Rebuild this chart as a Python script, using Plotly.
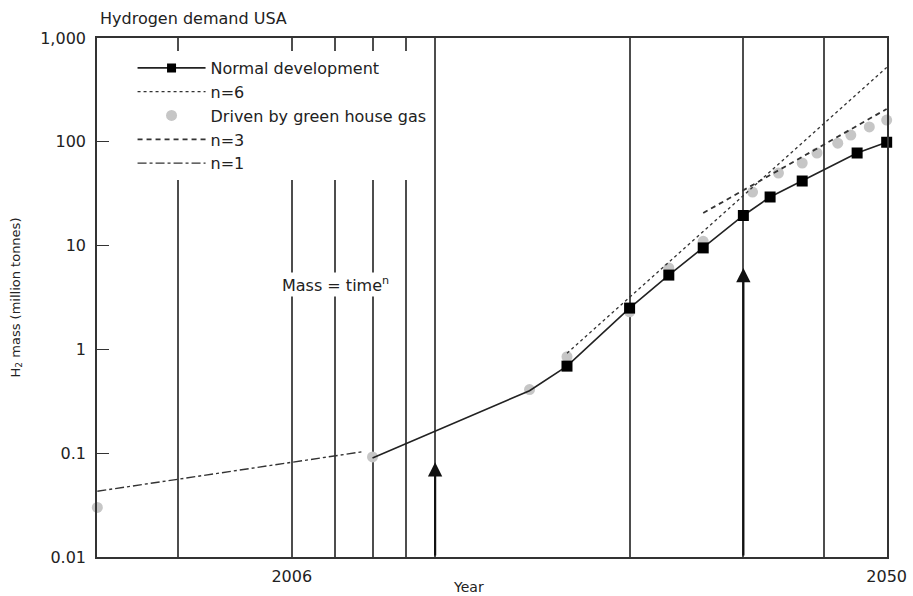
import numpy as np
import plotly.graph_objects as go

# ---------------- data ----------------
BASE_YEAR = 2000  # x axis is log(year - 2000)

normal_years = [2008, 2014, 2016, 2020, 2023, 2026, 2030, 2033, 2037, 2045, 2050]
normal_vals = [0.09, 0.40, 0.69, 2.5, 5.2, 9.5, 19.5, 29.4, 41.9, 78, 99]

ghg_years = [2003, 2008, 2014, 2016, 2020, 2023, 2026, 2031, 2034, 2037, 2039, 2042, 2044, 2047, 2050]
ghg_vals = [0.030, 0.092, 0.41, 0.85, 2.3, 6.1, 11, 32.8, 50, 62.5, 78, 97, 116, 139, 162]

n6_years = [2016, 2050]
n6_vals = [0.92, 520]

n3_years = [2026, 2050]
n3_vals = [20.6, 207]

n1_years = [2003, 2007.7]
n1_vals = [0.043, 0.103]

arrow_years = [2010, 2030]
arrow_vals = [0.082, 6.1]

grid_years = [2004, 2006, 2007, 2008, 2009, 2010, 2020, 2030, 2040, 2050]
label_years = [2006, 2050]
label_text = ["2006", "2050"]

y_tickvals = [0.01, 0.1, 1, 10, 100, 1000]
y_ticktext = ["0.01", "0.1", "1", "10", "100", "1,000"]

x_range_years = [2003, 2050]
y_range = [0.01, 1000]


def t(years):
    return [y - BASE_YEAR for y in years]


FONT = "DejaVu Sans"
INK = "#222222"
GRID = "#4d4d4d"
EPS = 0.0005  # tiny log padding so edge markers are not culled

fig = go.Figure()

# grey "driven by green house gas" points (drawn first, underneath)
fig.add_trace(go.Scatter(
    x=t(ghg_years), y=ghg_vals, mode="markers", cliponaxis=False,
    name="Driven by green house gas", legendrank=3,
    marker=dict(symbol="circle", size=11, color="#c6c6c6", line=dict(width=0)),
))

# power-law guide lines
fig.add_trace(go.Scatter(
    x=t(n6_years), y=n6_vals, mode="lines", name="n=6", legendrank=2,
    line=dict(color="#333333", width=1.3, dash="dot"),
))
fig.add_trace(go.Scatter(
    x=t(n3_years), y=n3_vals, mode="lines", name="n=3", legendrank=4,
    line=dict(color="#333333", width=1.8, dash="5px,4px"),
))
fig.add_trace(go.Scatter(
    x=t(n1_years), y=n1_vals, mode="lines", name="n=1", legendrank=5,
    line=dict(color="#333333", width=1.4, dash="dashdot"),
))

# normal development (squares from 2016 on)
sizes = [0 if yr < 2016 else 11 for yr in normal_years]
fig.add_trace(go.Scatter(
    x=t(normal_years), y=normal_vals, mode="lines+markers", cliponaxis=False,
    name="Normal development", legendrank=1,
    line=dict(color=INK, width=1.6),
    marker=dict(symbol="square", size=sizes, color="#000000", opacity=1,
                line=dict(width=0)),
))

# arrows
annotations = []
for yr, v in zip(arrow_years, arrow_vals):
    annotations.append(dict(
        x=np.log10(yr - BASE_YEAR), y=np.log10(v), xref="x", yref="y",
        ax=np.log10(yr - BASE_YEAR), ay=np.log10(y_range[0]), axref="x", ayref="y",
        text="", showarrow=True, arrowhead=2, arrowsize=1.3, arrowwidth=2.2,
        arrowcolor="#111111", standoff=0, startstandoff=0,
    ))

# equation label
annotations.append(dict(
    x=np.log10(2007 - BASE_YEAR), y=np.log10(4.2), xref="x", yref="y",
    text="Mass = time<sup>n</sup>", showarrow=False, bgcolor="white",
    font=dict(family=FONT, size=16, color=INK), borderpad=1,
))

# x axis title
annotations.append(dict(
    x=0.47, y=-0.057, xref="paper", yref="paper", text="Year", showarrow=False,
    font=dict(family=FONT, size=14, color=INK), yanchor="middle",
))

fig.update_layout(
    width=913, height=596,
    margin=dict(l=97, r=26, t=38, b=39, autoexpand=False),
    plot_bgcolor="white", paper_bgcolor="white",
    font=dict(family=FONT, color=INK, size=16),
    title=dict(text="Hydrogen demand USA", x=100 / 913, xanchor="left",
               y=1 - 18 / 596, yanchor="middle", xref="container", yref="container",
               font=dict(family=FONT, size=16, color=INK)),
    showlegend=True,
    legend=dict(x=0.045, y=0.975, xanchor="left", yanchor="top",
                bgcolor="white", borderwidth=0, itemwidth=68,
                font=dict(family=FONT, size=16, color=INK),
                tracegroupgap=0),
    annotations=annotations,
)

fig.update_xaxes(
    type="log", automargin=False,
    range=[np.log10(x_range_years[0] - BASE_YEAR) - EPS,
           np.log10(x_range_years[1] - BASE_YEAR) + EPS],
    tickvals=t(label_years), ticktext=label_text,
    showgrid=True, gridcolor=GRID, gridwidth=1.6,
    minor=dict(tickvals=t(grid_years), showgrid=True, gridcolor=GRID,
               gridwidth=1.6, ticks=""),
    ticks="", showline=True, linecolor="#333333", linewidth=1.6, mirror=True,
    zeroline=False, tickfont=dict(family=FONT, size=16, color=INK),
    ticklabelstandoff=4,
)

fig.update_yaxes(
    type="log", automargin=False,
    range=[np.log10(y_range[0]), np.log10(y_range[1])],
    tickvals=y_tickvals, ticktext=y_ticktext,
    showgrid=False, ticks="inside", ticklen=12, tickwidth=1.4, tickcolor="#333333",
    showline=True, linecolor="#333333", linewidth=1.6, mirror=True,
    zeroline=False, tickfont=dict(family=FONT, size=16, color=INK),
    ticklabelstandoff=6,
    title=dict(text="H<sub>2</sub> mass (million tonnes)", standoff=17,
               font=dict(family=FONT, size=13, color=INK)),
)

fig.write_html(
    "out.html",
    config={"displayModeBar": False},
    post_script="document.body.style.margin='0';document.body.style.overflow='hidden';",
)
